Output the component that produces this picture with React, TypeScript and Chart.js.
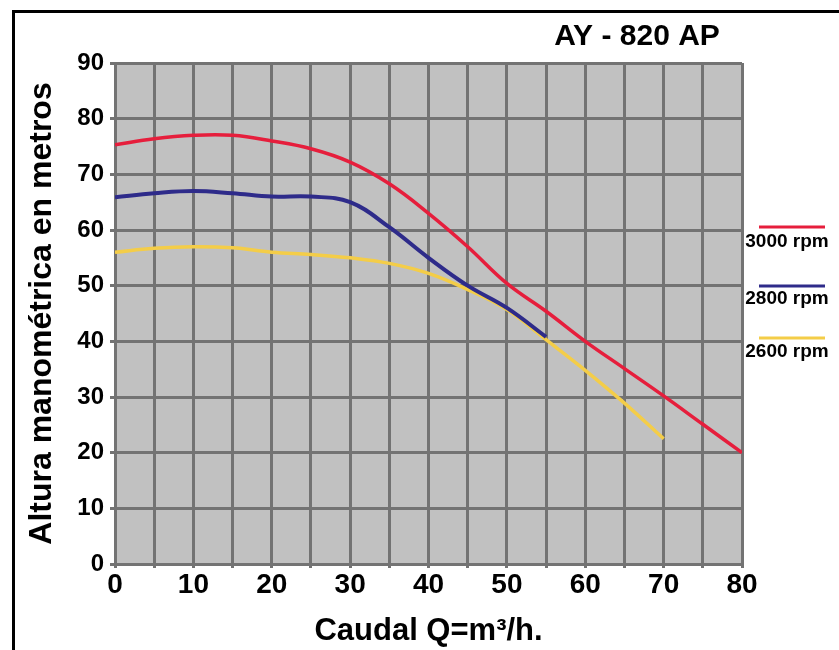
import React, { useEffect, useRef } from "react";
import { Chart, registerables } from "chart.js";

Chart.register(...registerables);

const FONT = "'Liberation Sans', Arial, Helvetica, sans-serif";

const chartTitle = "AY - 820 AP";
const xAxisTitle = "Caudal Q=m³/h.";
const yAxisTitle = "Altura manométrica en metros";

// 3000 rpm
const q3000 = [0, 5, 10, 15, 20, 25, 30, 35, 40, 45, 50, 55, 60, 65, 70, 75, 80];
const h3000 = [75.3, 76.4, 77, 77, 76, 74.6, 72.2, 68.3, 63, 57, 50.4, 45.4, 40, 35.1, 30.2, 25.1, 20];

// 2800 rpm
const q2800 = [0, 5, 10, 15, 20, 25, 30, 35, 40, 45, 50, 55];
const h2800 = [65.9, 66.6, 67, 66.6, 66, 66, 65, 60.5, 55, 50, 46, 40.8];

// 2600 rpm
const q2600 = [0, 5, 10, 15, 20, 25, 30, 35, 40, 45, 50, 55, 60, 65, 70];
const h2600 = [56, 56.7, 57, 56.8, 56, 55.6, 55, 54, 52.2, 49.3, 45.7, 40.3, 34.8, 28.9, 22.5];

const seriesLabels = ["3000 rpm", "2800 rpm", "2600 rpm"];
const seriesColors = ["#e61e3c", "#2e2b8a", "#f4cd48"];

const xMin = 0;
const xMax = 80;
const xStep = 5;
const xLabelStep = 10;
const yMin = 0;
const yMax = 90;
const yStep = 10;

const GRID = "#737373";
const PLOT_BG = "#c1c1c1";

const toPoints = (xs: number[], ys: number[]) => xs.map((x, i) => ({ x, y: ys[i] }));

const decorPlugin = {
  id: "decor",
  beforeDraw(chart: any) {
    const { ctx, chartArea } = chart;
    ctx.save();
    ctx.fillStyle = PLOT_BG;
    ctx.fillRect(chartArea.left, chartArea.top, chartArea.right - chartArea.left, chartArea.bottom - chartArea.top);
    ctx.restore();
  },
  afterDraw(chart: any) {
    const { ctx } = chart;
    ctx.save();
    ctx.fillStyle = "#000";
    ctx.font = `bold 30px ${FONT}`;
    ctx.textAlign = "center";
    ctx.textBaseline = "alphabetic";
    ctx.fillText(chartTitle, 637, 45);
    const lineYs = [227, 286, 338];
    const textYs = [247, 304, 357];
    chart.data.datasets.forEach((ds: any, i: number) => {
      ctx.strokeStyle = ds.borderColor;
      ctx.lineWidth = 3;
      ctx.beginPath();
      ctx.moveTo(759, lineYs[i]);
      ctx.lineTo(825, lineYs[i]);
      ctx.stroke();
      ctx.fillStyle = "#000";
      ctx.font = `bold 19px ${FONT}`;
      ctx.textAlign = "center";
      ctx.fillText(ds.label, 787, textYs[i]);
    });
    ctx.restore();
  },
};

export default function App() {
  const canvasRef = useRef<HTMLCanvasElement | null>(null);

  useEffect(() => {
    const canvas = canvasRef.current;
    if (!canvas) return;
    const common = { pointRadius: 0, tension: 0.4, fill: false };
    const chart = new Chart(canvas, {
      type: "line",
      data: {
        datasets: [
          { label: seriesLabels[0], data: toPoints(q3000, h3000), borderColor: seriesColors[0], borderWidth: 3.5, ...common },
          { label: seriesLabels[1], data: toPoints(q2800, h2800), borderColor: seriesColors[1], borderWidth: 4, ...common },
          { label: seriesLabels[2], data: toPoints(q2600, h2600), borderColor: seriesColors[2], borderWidth: 3.5, ...common },
        ],
      },
      options: {
        animation: false,
        responsive: false,
        devicePixelRatio: 1,
        layout: { padding: { top: 63, right: 97, left: 0, bottom: 0 } },
        plugins: {
          legend: { display: false },
          tooltip: { enabled: false },
          title: { display: false },
        },
        scales: {
          x: {
            type: "linear",
            min: xMin,
            max: xMax,
            afterFit: (scale: any) => {
              scale.height = 86;
            },
            ticks: {
              stepSize: xStep,
              autoSkip: false,
              maxRotation: 0,
              padding: 0,
              color: "#000",
              font: { family: FONT, size: 28, weight: "bold" },
              callback: (v: any) => (Number(v) % xLabelStep === 0 ? String(v) : ""),
            },
            grid: { color: GRID, lineWidth: 3, drawTicks: true, tickLength: 4, tickColor: GRID },
            border: { color: GRID, width: 3 },
            title: {
              display: true,
              text: xAxisTitle,
              color: "#000",
              font: { family: FONT, size: 31, weight: "bold" },
              padding: { top: 0, bottom: 0 },
            },
          },
          y: {
            type: "linear",
            min: yMin,
            max: yMax,
            afterFit: (scale: any) => {
              scale.width = 115;
            },
            ticks: {
              stepSize: yStep,
              padding: 6,
              color: "#000",
              font: { family: FONT, size: 24, weight: "bold" },
            },
            grid: { color: GRID, lineWidth: 3, drawTicks: true, tickLength: 5, tickColor: GRID },
            border: { color: GRID, width: 3 },
            title: {
              display: true,
              text: yAxisTitle,
              color: "#000",
              font: { family: FONT, size: 32, weight: "bold" },
              padding: { top: 23, bottom: 0 },
            },
          },
        },
      },
      plugins: [decorPlugin],
    } as any);
    return () => chart.destroy();
  }, []);

  return (
    <div
      style={{
        position: "fixed",
        left: 0,
        top: 0,
        width: 839,
        height: 650,
        background: "#fff",
        overflow: "hidden",
      }}
    >
      <canvas ref={canvasRef} width={839} height={650} style={{ position: "absolute", left: 0, top: 0, width: 839, height: 650 }} />
      <div
        style={{
          position: "absolute",
          left: 12,
          top: 10,
          width: 900,
          height: 700,
          borderLeft: "3px solid #000",
          borderTop: "3px solid #000",
          pointerEvents: "none",
        }}
      />
    </div>
  );
}
